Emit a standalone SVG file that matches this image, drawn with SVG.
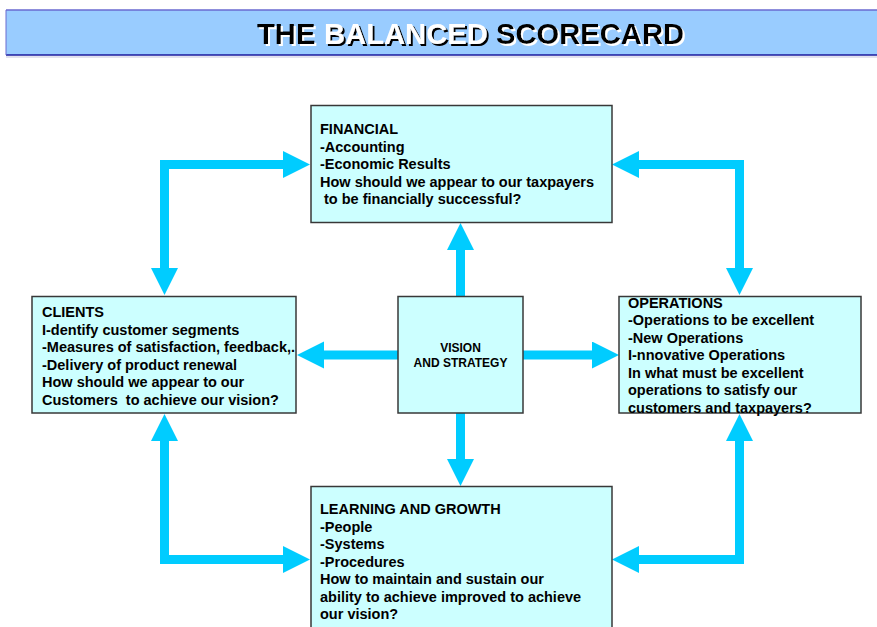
<svg xmlns="http://www.w3.org/2000/svg" width="877" height="627" viewBox="0 0 877 627">
  <style>
    .box { fill: #CCFFFF; stroke: #383838; stroke-width: 1.5; }
    .txt { font-family: "Liberation Sans", Arial, sans-serif; font-weight: bold; font-size: 14.5px; fill: #000; white-space: pre; }
    .vis { font-family: "Liberation Sans", Arial, sans-serif; font-weight: bold; font-size: 12px; fill: #000; text-anchor: middle; }
    .title { font-family: "Liberation Sans", Arial, sans-serif; font-weight: bold; font-size: 29.2px; }
    .conn { fill: none; stroke: #00CCFF; stroke-width: 9; stroke-linejoin: miter; }
  </style>
  <defs>
    <marker id="head" markerUnits="userSpaceOnUse" markerWidth="28" markerHeight="28" refX="0" refY="13.5" orient="auto-start-reverse" viewBox="0 0 28 28">
      <path d="M0,0 L27,13.5 L0,27 Z" fill="#00CCFF"/>
    </marker>
    <filter id="shadowLight" x="-5%" y="-20%" width="115%" height="150%">
      <feDropShadow dx="2" dy="2" stdDeviation="0" flood-color="#ffffff"/>
    </filter>
    <filter id="shadowDark" x="-5%" y="-20%" width="115%" height="150%">
      <feDropShadow dx="2" dy="2" stdDeviation="0" flood-color="#000000"/>
    </filter>
  </defs>

  <rect width="877" height="627" fill="#fff"/>

  <!-- heading banner -->
  <g id="title">
    <rect x="6" y="10" width="875" height="45" fill="#99CCFF"/>
    <line x1="6" y1="10" x2="877" y2="10" stroke="#6A6AD0" stroke-width="1.5"/>
    <line x1="6" y1="55" x2="877" y2="55" stroke="#1A1A9E" stroke-width="1.5"/>
    <line x1="6" y1="10" x2="6" y2="55" stroke="#6A6AD0" stroke-width="1"/>
    <line x1="6" y1="57" x2="877" y2="57" stroke="#D8D8E8" stroke-width="1.5"/>
    <text class="title" x="257" y="43.5" fill="#000" filter="url(#shadowLight)">THE</text>
    <text class="title" x="324" y="43.5" fill="#fff" filter="url(#shadowDark)">BALANCED</text>
    <text class="title" x="496" y="43.5" fill="#000" filter="url(#shadowLight)">SCORECARD</text>
  </g>

  <!-- connectors -->
  <g id="connectors" class="conn">
    <path class="conn" d="M164.5,268 V164.5 H283" marker-start="url(#head)" marker-end="url(#head)"/>
    <path class="conn" d="M739.5,268 V164.5 H639" marker-start="url(#head)" marker-end="url(#head)"/>
    <path class="conn" d="M164.5,441 V559.5 H283" marker-start="url(#head)" marker-end="url(#head)"/>
    <path class="conn" d="M739.5,441 V559.5 H639" marker-start="url(#head)" marker-end="url(#head)"/>
    <path class="conn" d="M460.5,296 V250" marker-end="url(#head)"/>
    <path class="conn" d="M460.5,413 V459" marker-end="url(#head)"/>
    <path class="conn" d="M398,355 H324" marker-end="url(#head)"/>
    <path class="conn" d="M523,355 H592" marker-end="url(#head)"/>
  </g>

  <g id="financial">
    <rect class="box" x="311" y="105.5" width="301" height="117"/>
    <text class="txt" x="320" y="134">FINANCIAL</text>
    <text class="txt" x="320" y="151.5">-Accounting</text>
    <text class="txt" x="320" y="169">-Economic Results</text>
    <text class="txt" x="320" y="186.5">How should we appear to our taxpayers</text>
    <text class="txt" x="320" y="204" xml:space="preserve"> to be financially successful?</text>
  </g>

  <g id="clients">
    <rect class="box" x="32" y="296.5" width="264" height="116.5"/>
    <text class="txt" x="42" y="317">CLIENTS</text>
    <text class="txt" x="42" y="334.5">I-dentify customer segments</text>
    <text class="txt" x="42" y="352">-Measures of satisfaction, feedback,.</text>
    <text class="txt" x="42" y="369.5">-Delivery of product renewal</text>
    <text class="txt" x="42" y="387">How should we appear to our</text>
    <text class="txt" x="42" y="404.5" xml:space="preserve">Customers  to achieve our vision?</text>
  </g>

  <g id="vision">
    <rect class="box" x="398" y="296.5" width="125" height="116.5"/>
    <text class="vis" x="460.5" y="352">VISION</text>
    <text class="vis" x="460.5" y="367">AND STRATEGY</text>
  </g>

  <g id="operations">
    <rect class="box" x="619" y="296.5" width="242" height="116.5"/>
    <text class="txt" x="628" y="307.5">OPERATIONS</text>
    <text class="txt" x="628" y="325">-Operations to be excellent</text>
    <text class="txt" x="628" y="342.5">-New Operations</text>
    <text class="txt" x="628" y="360">I-nnovative Operations</text>
    <text class="txt" x="628" y="377.5">In what must be excellent</text>
    <text class="txt" x="628" y="395">operations to satisfy our</text>
    <text class="txt" x="628" y="412.5">customers and taxpayers?</text>
  </g>

  <g id="learning">
    <rect class="box" x="311" y="486.5" width="301" height="160"/>
    <text class="txt" x="320" y="514">LEARNING AND GROWTH</text>
    <text class="txt" x="320" y="531.5">-People</text>
    <text class="txt" x="320" y="549">-Systems</text>
    <text class="txt" x="320" y="566.5">-Procedures</text>
    <text class="txt" x="320" y="584">How to maintain and sustain our</text>
    <text class="txt" x="320" y="601.5">ability to achieve improved to achieve</text>
    <text class="txt" x="320" y="619">our vision?</text>
  </g>
</svg>
